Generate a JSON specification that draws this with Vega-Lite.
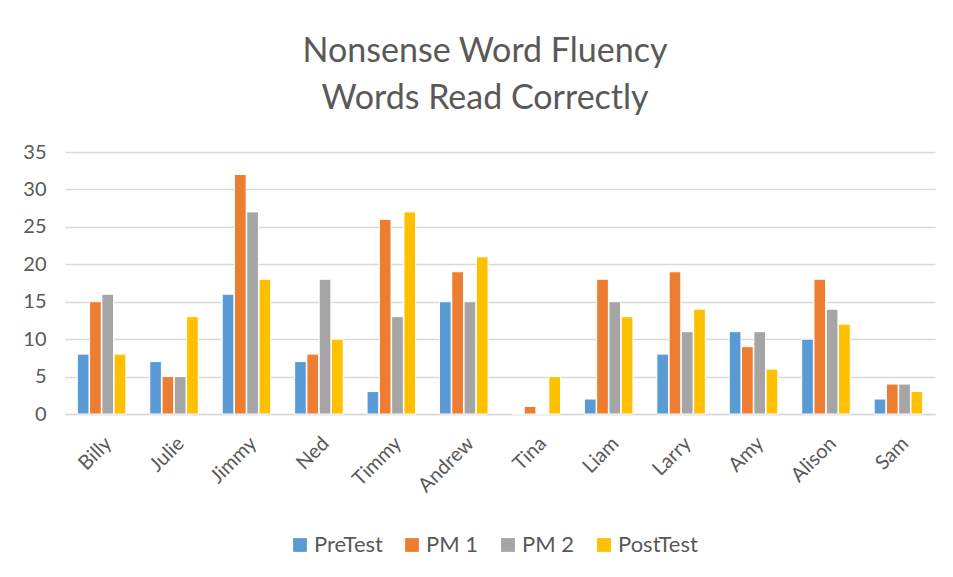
{
  "$schema": "https://vega.github.io/schema/vega-lite/v6.json",
  "width": 870,
  "height": 262,
  "autosize": {"type": "none"},
  "padding": {"left": 65, "top": 152, "right": 18, "bottom": 163},
  "background": "white",
  "title": {
    "text": ["Nonsense Word Fluency", "Words Read Correctly"],
    "fontSize": 34,
    "font": "Lato",
    "fontWeight": "normal",
    "color": "#595959",
    "lineHeight": 47,
    "anchor": "middle",
    "dx": -15,
    "offset": 26
  },
  "datasets": {
    "scores": [
      {"student": "Billy", "test": "PreTest", "score": 8},
      {"student": "Billy", "test": "PM 1", "score": 15},
      {"student": "Billy", "test": "PM 2", "score": 16},
      {"student": "Billy", "test": "PostTest", "score": 8},
      {"student": "Julie", "test": "PreTest", "score": 7},
      {"student": "Julie", "test": "PM 1", "score": 5},
      {"student": "Julie", "test": "PM 2", "score": 5},
      {"student": "Julie", "test": "PostTest", "score": 13},
      {"student": "Jimmy", "test": "PreTest", "score": 16},
      {"student": "Jimmy", "test": "PM 1", "score": 32},
      {"student": "Jimmy", "test": "PM 2", "score": 27},
      {"student": "Jimmy", "test": "PostTest", "score": 18},
      {"student": "Ned", "test": "PreTest", "score": 7},
      {"student": "Ned", "test": "PM 1", "score": 8},
      {"student": "Ned", "test": "PM 2", "score": 18},
      {"student": "Ned", "test": "PostTest", "score": 10},
      {"student": "Timmy", "test": "PreTest", "score": 3},
      {"student": "Timmy", "test": "PM 1", "score": 26},
      {"student": "Timmy", "test": "PM 2", "score": 13},
      {"student": "Timmy", "test": "PostTest", "score": 27},
      {"student": "Andrew", "test": "PreTest", "score": 15},
      {"student": "Andrew", "test": "PM 1", "score": 19},
      {"student": "Andrew", "test": "PM 2", "score": 15},
      {"student": "Andrew", "test": "PostTest", "score": 21},
      {"student": "Tina", "test": "PreTest", "score": 0},
      {"student": "Tina", "test": "PM 1", "score": 1},
      {"student": "Tina", "test": "PM 2", "score": 0},
      {"student": "Tina", "test": "PostTest", "score": 5},
      {"student": "Liam", "test": "PreTest", "score": 2},
      {"student": "Liam", "test": "PM 1", "score": 18},
      {"student": "Liam", "test": "PM 2", "score": 15},
      {"student": "Liam", "test": "PostTest", "score": 13},
      {"student": "Larry", "test": "PreTest", "score": 8},
      {"student": "Larry", "test": "PM 1", "score": 19},
      {"student": "Larry", "test": "PM 2", "score": 11},
      {"student": "Larry", "test": "PostTest", "score": 14},
      {"student": "Amy", "test": "PreTest", "score": 11},
      {"student": "Amy", "test": "PM 1", "score": 9},
      {"student": "Amy", "test": "PM 2", "score": 11},
      {"student": "Amy", "test": "PostTest", "score": 6},
      {"student": "Alison", "test": "PreTest", "score": 10},
      {"student": "Alison", "test": "PM 1", "score": 18},
      {"student": "Alison", "test": "PM 2", "score": 14},
      {"student": "Alison", "test": "PostTest", "score": 12},
      {"student": "Sam", "test": "PreTest", "score": 2},
      {"student": "Sam", "test": "PM 1", "score": 4},
      {"student": "Sam", "test": "PM 2", "score": 4},
      {"student": "Sam", "test": "PostTest", "score": 3}
    ]
  },
  "data": {"name": "scores"},
  "mark": {"type": "bar", "stroke": "white", "strokeWidth": 1},
  "encoding": {
    "x": {
      "field": "student",
      "type": "nominal",
      "sort": null,
      "title": null,
      "scale": {"paddingInner": 0.33, "paddingOuter": 0.17},
      "axis": {
        "labelAngle": -45,
        "labelFont": "Lato",
        "labelFontSize": 20,
        "labelColor": "#595959",
        "ticks": false,
        "domain": true,
        "domainColor": "#d9d9d9",
        "domainWidth": 1.5,
        "labelPadding": 19
      }
    },
    "xOffset": {
      "field": "test",
      "type": "nominal",
      "sort": ["PreTest", "PM 1", "PM 2", "PostTest"],
      "scale": {"paddingInner": 0.05}
    },
    "y": {
      "field": "score",
      "type": "quantitative",
      "title": null,
      "scale": {"domain": [0, 35], "nice": false},
      "axis": {
        "values": [0, 5, 10, 15, 20, 25, 30, 35],
        "labelFont": "Lato",
        "labelFontSize": 20,
        "labelColor": "#595959",
        "ticks": false,
        "domain": false,
        "gridColor": "#d9d9d9",
        "gridWidth": 1.5,
        "labelPadding": 19
      }
    },
    "color": {
      "field": "test",
      "type": "nominal",
      "sort": ["PreTest", "PM 1", "PM 2", "PostTest"],
      "scale": {
        "domain": ["PreTest", "PM 1", "PM 2", "PostTest"],
        "range": ["#5B9BD5", "#ED7D31", "#A5A5A5", "#FFC000"]
      },
      "legend": {
        "title": null,
        "orient": "none",
        "legendX": 224,
        "legendY": 382,
        "direction": "horizontal",
        "symbolType": "square",
        "symbolSize": 190,
        "symbolStrokeWidth": 0,
        "labelFont": "Lato",
        "labelFontSize": 22,
        "labelColor": "#595959",
        "labelOffset": 3,
        "columnPadding": 18
      }
    }
  },
  "config": {
    "view": {"stroke": null}
  }
}
